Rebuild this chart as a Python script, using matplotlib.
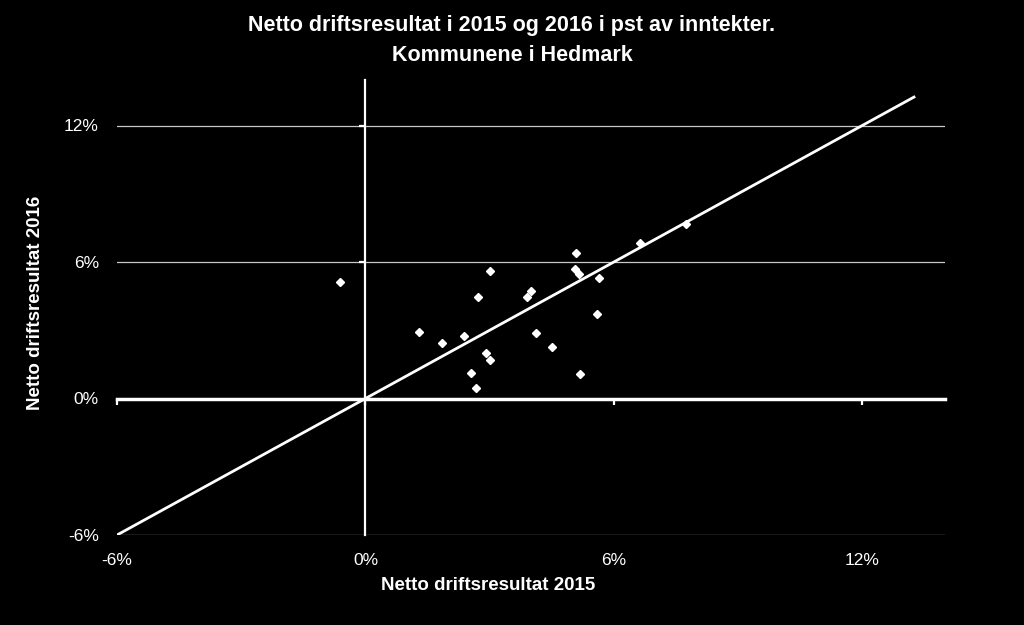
import matplotlib.pyplot as plt

plt.rcParams['font.family'] = ['Liberation Sans', 'DejaVu Sans']

# netto driftsresultat i pst av inntekter, kommunene i Hedmark
res_2015 = [-0.61, 3.02, 5.08, 6.63, 7.75, 5.06, 5.15, 5.64, 2.72, 3.99, 3.90,
            1.30, 1.86, 2.38, 4.11, 5.59, 4.50, 2.92, 3.02, 2.55, 2.67, 5.19]
res_2016 = [5.12, 5.59, 6.40, 6.82, 7.69, 5.71, 5.46, 5.30, 4.45, 4.74, 4.48,
            2.91, 2.43, 2.75, 2.89, 3.70, 2.25, 2.01, 1.68, 1.13, 0.44, 1.06]

line_x = [-6, 13.25]
line_y = [-6, 13.25]

ticks = [-6, 0, 6, 12]
tick_labels = ['-6%', '0%', '6%', '12%']

fig = plt.figure(figsize=(10.24, 6.25), dpi=100, facecolor='black')
ax = fig.add_axes([0.1143, 0.144, 0.8086, 0.728], facecolor='black')
ax.set_xlim(-6, 14)
ax.set_ylim(-6, 14)

# grid lines at y ticks
for t in [-6, 6, 12]:
    ax.axhline(t, color='#c8c8c8', lw=0.9, zorder=1)

# axes crossing at zero, ticks drawn on them
for s in ['top', 'right']:
    ax.spines[s].set_visible(False)
ax.spines['bottom'].set_position(('data', 0))
ax.spines['left'].set_position(('data', 0))
ax.spines['bottom'].set_color('white')
ax.spines['bottom'].set_linewidth(2.5)
ax.spines['left'].set_color('white')
ax.spines['left'].set_linewidth(1.6)
ax.set_xticks(ticks)
ax.set_yticks([6, 12])
ax.tick_params(colors='white', labelbottom=False, labelleft=False,
               direction='out', length=4, width=1.6)
ax.spines['bottom'].set_zorder(3)
ax.spines['left'].set_zorder(3)

# labels on the outer edges
secx = ax.secondary_xaxis('bottom')
secx.set_xticks(ticks)
secx.set_xticklabels(tick_labels)
secx.spines['bottom'].set_visible(False)
secx.tick_params(length=0, colors='white', labelsize=12.5, pad=13)

secy = ax.secondary_yaxis('left')
secy.set_yticks(ticks)
secy.set_yticklabels(tick_labels)
secy.spines['left'].set_visible(False)
secy.tick_params(length=0, colors='white', labelsize=12.5, pad=13)

ax.plot(line_x, line_y, color='white', lw=2, zorder=4)
ax.plot(res_2015, res_2016, 'D', color='white', ms=4.5, mec='white', zorder=5,
        clip_on=False)

fig.text(0.477, 0.064, 'Netto driftsresultat 2015', color='white',
         fontsize=13.5, fontweight='bold', ha='center', va='center')
fig.text(0.035, 0.515, 'Netto driftsresultat 2016', color='white',
         fontsize=13.5, fontweight='bold', ha='center', va='center', rotation=90)
fig.text(0.5, 0.935, 'Netto driftsresultat i 2015 og 2016 i pst av inntekter.\nKommunene i Hedmark',
         color='white', fontsize=15.5, fontweight='bold', ha='center', va='center',
         linespacing=1.6)

fig.savefig('out.png', dpi=100, facecolor='black')
